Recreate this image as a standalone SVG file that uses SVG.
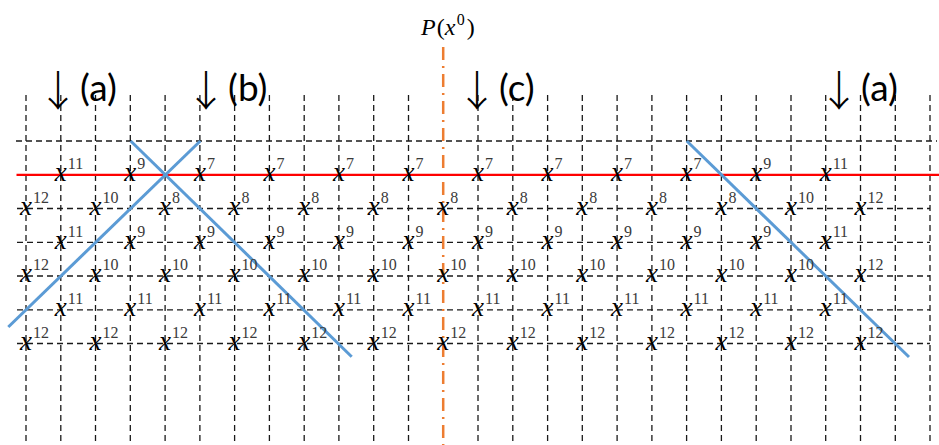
<svg xmlns="http://www.w3.org/2000/svg" width="939" height="445" viewBox="0 0 939 445">
<style>
.grid{fill:none;stroke:#1a1a1a;stroke-width:1.3;stroke-dasharray:6 4}
.red{stroke:#ff0000;stroke-width:2.2}
.blue{stroke:#5b9bd5;stroke-width:3;fill:none}
.orange{stroke:#ed7d31;stroke-width:2.5;stroke-dasharray:13 6 2 6}
.xl{font-family:"Liberation Serif","Times New Roman",serif;font-size:27px;fill:#000}
.xl .v{font-style:italic}
.xl .s{font-size:16px;fill:#3a3a3a;font-style:normal}
.lab{font-family:Lato,"Open Sans",sans-serif;font-size:37px;fill:#000}
.lab .arr{font-family:"Noto Sans CJK SC","Liberation Sans",sans-serif;font-size:42px;font-weight:300}
.px{font-family:"Liberation Serif","Times New Roman",serif;font-size:24px;fill:#000}
</style>
<rect width="939" height="445" fill="#fff"/>
<g id="connectors">
<path class="grid" d="M26 95V445M60.8 95V445M95.5 95V445M130.3 95V445M165.1 95V445M199.9 95V445M234.6 95V445M269.4 95V445M304.2 95V445M338.9 95V445M373.7 95V445M408.5 95V445M478 95V445M512.8 95V445M547.6 95V445M582.3 95V445M617.1 95V445M651.9 95V445M686.6 95V445M721.4 95V445M756.2 95V445M791 95V445M825.7 95V445M860.5 95V445M895.3 95V445M930 95V445"/>
<path class="grid" d="M16 141H937M17 208.5H930M17 242.3H930M17 276H930M17 309.8H930M17 343.5H930"/>
<line id="axis-p" class="orange" x1="443.2" y1="47" x2="443.2" y2="445"/>
<line id="red-line" class="red" x1="16.5" y1="174.8" x2="939" y2="174.8"/>
<line id="blue-1" class="blue" x1="200.3" y1="141" x2="8.3" y2="327"/>
<line id="blue-2" class="blue" x1="130.7" y1="141" x2="351.7" y2="356.7"/>
<line id="blue-3" class="blue" x1="686.8" y1="141" x2="909" y2="357"/>
</g>
<g id="titles">
<text id="title-p" class="px" x="421" y="35"><tspan font-style="italic">P</tspan><tspan dx="1">(</tspan><tspan font-style="italic">x</tspan><tspan font-size="16" dy="-10" dx="1.5">0</tspan><tspan dy="10" dx="2">)</tspan></text>
<text id="lab-a1" class="lab" y="101"><tspan class="arr" x="37" y="106">↓</tspan><tspan x="80" y="101">(a)</tspan></text>
<text id="lab-b" class="lab" y="101"><tspan class="arr" x="185" y="106">↓</tspan><tspan x="228" y="101">(b)</tspan></text>
<text id="lab-c" class="lab" y="101"><tspan class="arr" x="456" y="106">↓</tspan><tspan x="499" y="101">(c)</tspan></text>
<text id="lab-a2" class="lab" y="101"><tspan class="arr" x="818" y="106">↓</tspan><tspan x="861" y="101">(a)</tspan></text>
</g>
<g id="row0">
<text id="r0c1" class="xl" x="54.8" y="181"><tspan class="v">x</tspan><tspan class="s" dx="1" dy="-12">11</tspan></text>
<text id="r0c3" class="xl" x="124.3" y="181"><tspan class="v">x</tspan><tspan class="s" dx="1" dy="-12">9</tspan></text>
<text id="r0c5" class="xl" x="193.9" y="181"><tspan class="v">x</tspan><tspan class="s" dx="1" dy="-12">7</tspan></text>
<text id="r0c7" class="xl" x="263.4" y="181"><tspan class="v">x</tspan><tspan class="s" dx="1" dy="-12">7</tspan></text>
<text id="r0c9" class="xl" x="332.9" y="181"><tspan class="v">x</tspan><tspan class="s" dx="1" dy="-12">7</tspan></text>
<text id="r0c11" class="xl" x="402.5" y="181"><tspan class="v">x</tspan><tspan class="s" dx="1" dy="-12">7</tspan></text>
<text id="r0c13" class="xl" x="472" y="181"><tspan class="v">x</tspan><tspan class="s" dx="1" dy="-12">7</tspan></text>
<text id="r0c15" class="xl" x="541.6" y="181"><tspan class="v">x</tspan><tspan class="s" dx="1" dy="-12">7</tspan></text>
<text id="r0c17" class="xl" x="611.1" y="181"><tspan class="v">x</tspan><tspan class="s" dx="1" dy="-12">7</tspan></text>
<text id="r0c19" class="xl" x="680.6" y="181"><tspan class="v">x</tspan><tspan class="s" dx="1" dy="-12">7</tspan></text>
<text id="r0c21" class="xl" x="750.2" y="181"><tspan class="v">x</tspan><tspan class="s" dx="1" dy="-12">9</tspan></text>
<text id="r0c23" class="xl" x="819.7" y="181"><tspan class="v">x</tspan><tspan class="s" dx="1" dy="-12">11</tspan></text>
</g>
<g id="row1">
<text id="r1c0" class="xl" x="20" y="214.7"><tspan class="v">x</tspan><tspan class="s" dx="1" dy="-12">12</tspan></text>
<text id="r1c2" class="xl" x="89.5" y="214.7"><tspan class="v">x</tspan><tspan class="s" dx="1" dy="-12">10</tspan></text>
<text id="r1c4" class="xl" x="159.1" y="214.7"><tspan class="v">x</tspan><tspan class="s" dx="1" dy="-12">8</tspan></text>
<text id="r1c6" class="xl" x="228.6" y="214.7"><tspan class="v">x</tspan><tspan class="s" dx="1" dy="-12">8</tspan></text>
<text id="r1c8" class="xl" x="298.2" y="214.7"><tspan class="v">x</tspan><tspan class="s" dx="1" dy="-12">8</tspan></text>
<text id="r1c10" class="xl" x="367.7" y="214.7"><tspan class="v">x</tspan><tspan class="s" dx="1" dy="-12">8</tspan></text>
<text id="r1c12" class="xl" x="437.2" y="214.7"><tspan class="v">x</tspan><tspan class="s" dx="1" dy="-12">8</tspan></text>
<text id="r1c14" class="xl" x="506.8" y="214.7"><tspan class="v">x</tspan><tspan class="s" dx="1" dy="-12">8</tspan></text>
<text id="r1c16" class="xl" x="576.3" y="214.7"><tspan class="v">x</tspan><tspan class="s" dx="1" dy="-12">8</tspan></text>
<text id="r1c18" class="xl" x="645.9" y="214.7"><tspan class="v">x</tspan><tspan class="s" dx="1" dy="-12">8</tspan></text>
<text id="r1c20" class="xl" x="715.4" y="214.7"><tspan class="v">x</tspan><tspan class="s" dx="1" dy="-12">8</tspan></text>
<text id="r1c22" class="xl" x="785" y="214.7"><tspan class="v">x</tspan><tspan class="s" dx="1" dy="-12">10</tspan></text>
<text id="r1c24" class="xl" x="854.5" y="214.7"><tspan class="v">x</tspan><tspan class="s" dx="1" dy="-12">12</tspan></text>
</g>
<g id="row2">
<text id="r2c1" class="xl" x="54.8" y="248.5"><tspan class="v">x</tspan><tspan class="s" dx="1" dy="-12">11</tspan></text>
<text id="r2c3" class="xl" x="124.3" y="248.5"><tspan class="v">x</tspan><tspan class="s" dx="1" dy="-12">9</tspan></text>
<text id="r2c5" class="xl" x="193.9" y="248.5"><tspan class="v">x</tspan><tspan class="s" dx="1" dy="-12">9</tspan></text>
<text id="r2c7" class="xl" x="263.4" y="248.5"><tspan class="v">x</tspan><tspan class="s" dx="1" dy="-12">9</tspan></text>
<text id="r2c9" class="xl" x="332.9" y="248.5"><tspan class="v">x</tspan><tspan class="s" dx="1" dy="-12">9</tspan></text>
<text id="r2c11" class="xl" x="402.5" y="248.5"><tspan class="v">x</tspan><tspan class="s" dx="1" dy="-12">9</tspan></text>
<text id="r2c13" class="xl" x="472" y="248.5"><tspan class="v">x</tspan><tspan class="s" dx="1" dy="-12">9</tspan></text>
<text id="r2c15" class="xl" x="541.6" y="248.5"><tspan class="v">x</tspan><tspan class="s" dx="1" dy="-12">9</tspan></text>
<text id="r2c17" class="xl" x="611.1" y="248.5"><tspan class="v">x</tspan><tspan class="s" dx="1" dy="-12">9</tspan></text>
<text id="r2c19" class="xl" x="680.6" y="248.5"><tspan class="v">x</tspan><tspan class="s" dx="1" dy="-12">9</tspan></text>
<text id="r2c21" class="xl" x="750.2" y="248.5"><tspan class="v">x</tspan><tspan class="s" dx="1" dy="-12">9</tspan></text>
<text id="r2c23" class="xl" x="819.7" y="248.5"><tspan class="v">x</tspan><tspan class="s" dx="1" dy="-12">11</tspan></text>
</g>
<g id="row3">
<text id="r3c0" class="xl" x="20" y="282.2"><tspan class="v">x</tspan><tspan class="s" dx="1" dy="-12">12</tspan></text>
<text id="r3c2" class="xl" x="89.5" y="282.2"><tspan class="v">x</tspan><tspan class="s" dx="1" dy="-12">10</tspan></text>
<text id="r3c4" class="xl" x="159.1" y="282.2"><tspan class="v">x</tspan><tspan class="s" dx="1" dy="-12">10</tspan></text>
<text id="r3c6" class="xl" x="228.6" y="282.2"><tspan class="v">x</tspan><tspan class="s" dx="1" dy="-12">10</tspan></text>
<text id="r3c8" class="xl" x="298.2" y="282.2"><tspan class="v">x</tspan><tspan class="s" dx="1" dy="-12">10</tspan></text>
<text id="r3c10" class="xl" x="367.7" y="282.2"><tspan class="v">x</tspan><tspan class="s" dx="1" dy="-12">10</tspan></text>
<text id="r3c12" class="xl" x="437.2" y="282.2"><tspan class="v">x</tspan><tspan class="s" dx="1" dy="-12">10</tspan></text>
<text id="r3c14" class="xl" x="506.8" y="282.2"><tspan class="v">x</tspan><tspan class="s" dx="1" dy="-12">10</tspan></text>
<text id="r3c16" class="xl" x="576.3" y="282.2"><tspan class="v">x</tspan><tspan class="s" dx="1" dy="-12">10</tspan></text>
<text id="r3c18" class="xl" x="645.9" y="282.2"><tspan class="v">x</tspan><tspan class="s" dx="1" dy="-12">10</tspan></text>
<text id="r3c20" class="xl" x="715.4" y="282.2"><tspan class="v">x</tspan><tspan class="s" dx="1" dy="-12">10</tspan></text>
<text id="r3c22" class="xl" x="785" y="282.2"><tspan class="v">x</tspan><tspan class="s" dx="1" dy="-12">10</tspan></text>
<text id="r3c24" class="xl" x="854.5" y="282.2"><tspan class="v">x</tspan><tspan class="s" dx="1" dy="-12">12</tspan></text>
</g>
<g id="row4">
<text id="r4c1" class="xl" x="54.8" y="316"><tspan class="v">x</tspan><tspan class="s" dx="1" dy="-12">11</tspan></text>
<text id="r4c3" class="xl" x="124.3" y="316"><tspan class="v">x</tspan><tspan class="s" dx="1" dy="-12">11</tspan></text>
<text id="r4c5" class="xl" x="193.9" y="316"><tspan class="v">x</tspan><tspan class="s" dx="1" dy="-12">11</tspan></text>
<text id="r4c7" class="xl" x="263.4" y="316"><tspan class="v">x</tspan><tspan class="s" dx="1" dy="-12">11</tspan></text>
<text id="r4c9" class="xl" x="332.9" y="316"><tspan class="v">x</tspan><tspan class="s" dx="1" dy="-12">11</tspan></text>
<text id="r4c11" class="xl" x="402.5" y="316"><tspan class="v">x</tspan><tspan class="s" dx="1" dy="-12">11</tspan></text>
<text id="r4c13" class="xl" x="472" y="316"><tspan class="v">x</tspan><tspan class="s" dx="1" dy="-12">11</tspan></text>
<text id="r4c15" class="xl" x="541.6" y="316"><tspan class="v">x</tspan><tspan class="s" dx="1" dy="-12">11</tspan></text>
<text id="r4c17" class="xl" x="611.1" y="316"><tspan class="v">x</tspan><tspan class="s" dx="1" dy="-12">11</tspan></text>
<text id="r4c19" class="xl" x="680.6" y="316"><tspan class="v">x</tspan><tspan class="s" dx="1" dy="-12">11</tspan></text>
<text id="r4c21" class="xl" x="750.2" y="316"><tspan class="v">x</tspan><tspan class="s" dx="1" dy="-12">11</tspan></text>
<text id="r4c23" class="xl" x="819.7" y="316"><tspan class="v">x</tspan><tspan class="s" dx="1" dy="-12">11</tspan></text>
</g>
<g id="row5">
<text id="r5c0" class="xl" x="20" y="349.7"><tspan class="v">x</tspan><tspan class="s" dx="1" dy="-12">12</tspan></text>
<text id="r5c2" class="xl" x="89.5" y="349.7"><tspan class="v">x</tspan><tspan class="s" dx="1" dy="-12">12</tspan></text>
<text id="r5c4" class="xl" x="159.1" y="349.7"><tspan class="v">x</tspan><tspan class="s" dx="1" dy="-12">12</tspan></text>
<text id="r5c6" class="xl" x="228.6" y="349.7"><tspan class="v">x</tspan><tspan class="s" dx="1" dy="-12">12</tspan></text>
<text id="r5c8" class="xl" x="298.2" y="349.7"><tspan class="v">x</tspan><tspan class="s" dx="1" dy="-12">12</tspan></text>
<text id="r5c10" class="xl" x="367.7" y="349.7"><tspan class="v">x</tspan><tspan class="s" dx="1" dy="-12">12</tspan></text>
<text id="r5c12" class="xl" x="437.2" y="349.7"><tspan class="v">x</tspan><tspan class="s" dx="1" dy="-12">12</tspan></text>
<text id="r5c14" class="xl" x="506.8" y="349.7"><tspan class="v">x</tspan><tspan class="s" dx="1" dy="-12">12</tspan></text>
<text id="r5c16" class="xl" x="576.3" y="349.7"><tspan class="v">x</tspan><tspan class="s" dx="1" dy="-12">12</tspan></text>
<text id="r5c18" class="xl" x="645.9" y="349.7"><tspan class="v">x</tspan><tspan class="s" dx="1" dy="-12">12</tspan></text>
<text id="r5c20" class="xl" x="715.4" y="349.7"><tspan class="v">x</tspan><tspan class="s" dx="1" dy="-12">12</tspan></text>
<text id="r5c22" class="xl" x="785" y="349.7"><tspan class="v">x</tspan><tspan class="s" dx="1" dy="-12">12</tspan></text>
<text id="r5c24" class="xl" x="854.5" y="349.7"><tspan class="v">x</tspan><tspan class="s" dx="1" dy="-12">12</tspan></text>
</g>
</svg>
